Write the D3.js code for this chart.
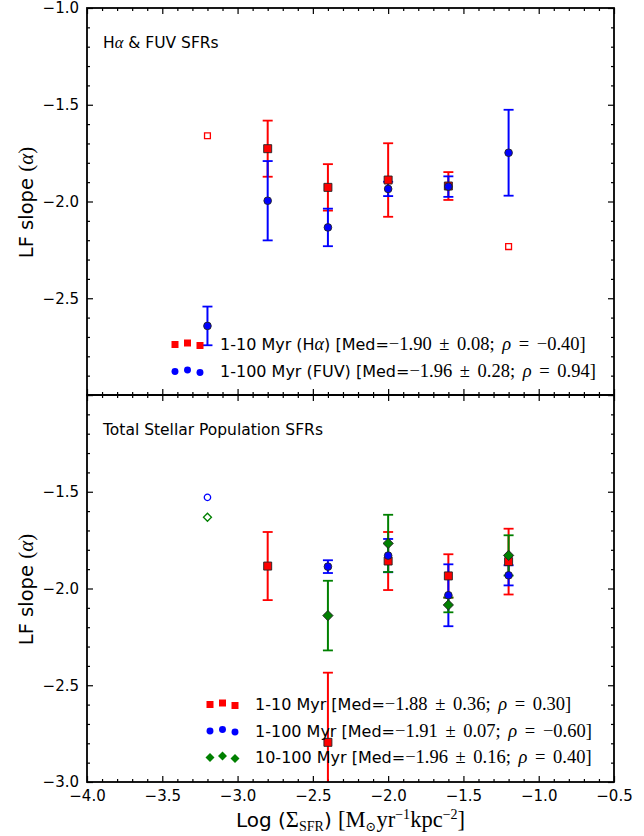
<!DOCTYPE html>
<html>
<head>
<meta charset="utf-8">
<script src="https://cdn.jsdelivr.net/npm/d3@7"></script>
<style>
body { margin: 0; background: #fff; }
text { font-family: "DejaVu Sans", sans-serif; fill: #000; }
</style>
</head>
<body>
<svg id="chart"></svg>
<script>
// ---- data ----
// top panel: H-alpha (1-10 Myr) and FUV (1-100 Myr)
const haX = [-3.2, -2.8, -2.4, -2.0, -1.6, -1.2];
const haSlope = [-1.66, -1.727, -1.927, -1.889, -1.92, -2.233];
const haErr = [null, 0.145, 0.12, 0.19, 0.072, null];

const fuvX = [-3.2, -2.8, -2.4, -2.0, -1.6, -1.2];
const fuvSlope = [-2.643, -1.996, -2.134, -1.935, -1.923, -1.748];
const fuvErr = [0.10, 0.205, 0.097, 0.037, 0.053, 0.222];

// bottom panel: total stellar population
const youngX = [-2.8, -2.4, -2.0, -1.6, -1.2];
const youngSlope = [-1.884, -2.795, -1.858, -1.935, -1.861];
const youngErr = [0.176, 0.36, 0.15, 0.112, 0.17];
const allX = [-3.2, -2.4, -2.0, -1.6, -1.2];
const allSlope = [-1.529, -1.887, -1.83, -2.035, -1.932];
const allErr = [null, 0.033, 0.086, 0.16, 0.052];
const oldX = [-3.2, -2.4, -2.0, -1.6, -1.2];
const oldSlope = [-1.632, -2.14, -1.767, -2.085, -1.829];
const oldErr = [null, 0.18, 0.148, 0.038, 0.104];

const xTicks = [-4.0, -3.5, -3.0, -2.5, -2.0, -1.5, -1.0, -0.5];
const yTicks = [-3.0, -2.5, -2.0, -1.5, -1.0];
const yLabelsTop = [-2.5, -2.0, -1.5, -1.0];
const yLabelsBot = [-3.0, -2.5, -2.0, -1.5];

// legend strings
const legTop = [
  { name: ['1-10 Myr (H', 'α', ') [Med='], med: '−1.90 ± 0.08; ', rho: '−0.40' },
  { name: ['1-100 Myr (FUV) [Med='], med: '−1.96 ± 0.28; ', rho: '0.94' }
];
const legBot = [
  { name: ['1-10 Myr [Med='], med: '−1.88 ± 0.36; ', rho: '0.30' },
  { name: ['1-100 Myr [Med='], med: '−1.91 ± 0.07; ', rho: '−0.60' },
  { name: ['10-100 Myr [Med='], med: '−1.96 ± 0.16; ', rho: '0.40' }
];

// ---- layout ----
const width = 644, height = 836;
const left = 87, right = 614;
const topPanel = [8, 395], botPanel = [395, 782];
const SERIF = '"Liberation Serif", "DejaVu Serif", serif';
const RED = '#ff0000', BLUE = '#0000ff', GREEN = '#008000';

const svg = d3.select('#chart').attr('width', width).attr('height', height);

const x = d3.scaleLinear().domain([-4, -0.5]).range([left, right]);
const minorX = d3.range(-40, -4, 1).map(d => d / 10).filter(d => Math.abs(d * 2 - Math.round(d * 2)) > 1e-6);
const minorY = d3.range(-30, -9, 1).map(d => d / 10).filter(d => Math.abs(d * 2 - Math.round(d * 2)) > 1e-6);

// mixed-font text helper
function addParts(t, parts) {
  let cur = 0;
  parts.forEach(p => {
    const s = p.shift || 0;
    const ts = t.append('tspan').text(p.t).attr('dy', s - cur);
    cur = s;
    if (p.serif) ts.style('font-family', SERIF);
    if (p.italic) ts.style('font-style', 'italic');
    if (p.size) ts.style('font-size', p.size + 'px');
    if (p.ws) ts.style('word-spacing', p.ws + 'px');
  });
  return t;
}

function marker(g, shape, cx, cy, size, fill, stroke, sw) {
  let sym, rot = 0;
  if (shape === 'square') sym = d3.symbolSquare;
  else if (shape === 'circle') sym = d3.symbolCircle;
  else { sym = d3.symbolSquare; rot = 45; }
  g.append('path')
    .attr('d', d3.symbol().type(sym).size(size)())
    .attr('transform', `translate(${cx},${cy}) rotate(${rot})`)
    .attr('fill', fill)
    .attr('stroke', stroke)
    .attr('stroke-width', sw);
}

const sizes = {
  square: { filled: 64, open: 34, leg: 49 },
  circle: { filled: 46, open: 32, leg: 38 },
  diamond: { filled: 52, open: 32, leg: 40 }
};

function drawPanel(range, series, yLabelVals, title, legend, legPos, id) {
  const y = d3.scaleLinear().domain([-3, -1]).range([range[1], range[0]]);
  const g = svg.append('g');

  svg.append('clipPath').attr('id', 'clip' + id)
    .append('rect').attr('x', left).attr('y', range[0]).attr('width', right - left).attr('height', range[1] - range[0]);

  // ticks (inward, all four sides)
  const mk = (axis, scale, vals, len, tf) => axis(scale).tickValues(vals).tickSize(-len).tickPadding(8).tickFormat(tf);
  const noLab = () => '';
  const addAxis = (ax, tr) => {
    const a = g.append('g').attr('transform', tr).call(ax);
    a.select('.domain').remove();
    a.selectAll('line').attr('stroke', '#000').attr('stroke-width', 1.2);
    a.selectAll('text').style('font-size', '15px').style('font-family', '"DejaVu Sans", sans-serif');
    return a;
  };
  addAxis(mk(d3.axisBottom, x, xTicks, 6, id === 'b' ? d3.format('.1f') : noLab), `translate(0,${range[1]})`);
  addAxis(mk(d3.axisBottom, x, minorX, 3, noLab), `translate(0,${range[1]})`);
  addAxis(mk(d3.axisTop, x, xTicks, 6, noLab), `translate(0,${range[0]})`);
  addAxis(mk(d3.axisTop, x, minorX, 3, noLab), `translate(0,${range[0]})`);
  addAxis(mk(d3.axisLeft, y, yTicks, 6, d => yLabelVals.includes(d) ? d3.format('.1f')(d) : ''), `translate(${left},0)`);
  addAxis(mk(d3.axisLeft, y, minorY, 3, noLab), `translate(${left},0)`);
  addAxis(mk(d3.axisRight, y, yTicks, 6, noLab), `translate(${right},0)`);
  addAxis(mk(d3.axisRight, y, minorY, 3, noLab), `translate(${right},0)`);

  // error bars first, then markers
  const plot = g.append('g').attr('clip-path', `url(#clip${id})`);
  series.forEach(s => {
    s.x.forEach((xv, i) => {
      const e = s.e[i];
      if (e == null) return;
      const cx = x(xv), y1 = y(s.y[i] + e), y2 = y(s.y[i] - e);
      plot.append('line').attr('x1', cx).attr('x2', cx).attr('y1', y1).attr('y2', y2)
        .attr('stroke', s.color).attr('stroke-width', 2);
      [y1, y2].forEach(yy => plot.append('line').attr('x1', cx - 5).attr('x2', cx + 5).attr('y1', yy).attr('y2', yy)
        .attr('stroke', s.color).attr('stroke-width', 1.8));
    });
  });
  series.forEach(s => {
    s.x.forEach((xv, i) => {
      const open = s.e[i] == null;
      if (open) marker(plot, s.shape, x(xv), y(s.y[i]), sizes[s.shape].open, '#fff', s.color, 1.3);
      else marker(plot, s.shape, x(xv), y(s.y[i]), sizes[s.shape].filled, s.color, '#222', 0.9);
    });
  });

  // frame
  g.append('rect').attr('x', left).attr('y', range[0]).attr('width', right - left).attr('height', range[1] - range[0])
    .attr('fill', 'none').attr('stroke', '#000').attr('stroke-width', 1.8);

  // title
  addParts(g.append('text').attr('x', 103).attr('y', range[0] + 40).style('font-size', '15.5px'), title);

  // y label
  addParts(g.append('text')
    .attr('transform', `translate(33,${(range[0] + range[1]) / 2 + 1}) rotate(-90)`)
    .attr('text-anchor', 'middle').style('font-size', '19.5px'),
    [{ t: 'LF slope ' }, { t: '(', serif: true, size: 21 }, { t: 'α', serif: true, italic: true, size: 21 }, { t: ')', serif: true, size: 21 }]);

  // legend
  const jit = [0, -1.5, 1];
  legend.forEach((l, k) => {
    const s = series[k];
    const cy = legPos.y + k * legPos.dy;
    [0, 1, 2].forEach(j => marker(g, s.shape, legPos.mx + j * 12.5, cy + jit[j], sizes[s.shape].leg, s.color, 'none', 0));
    const parts = [];
    l.name.forEach(n => parts.push(n === 'α' ? { t: n, serif: true, italic: true, size: 18 } : { t: n }));
    parts.push({ t: l.med, serif: true, size: 18.5, ws: 3 });
    parts.push({ t: 'ρ', serif: true, italic: true, size: 18.5 });
    parts.push({ t: ' = ' + l.rho + ']', serif: true, size: 18.5, ws: 3 });
    addParts(g.append('text').attr('x', legPos.tx).attr('y', cy + 5.5).style('font-size', '16px'), parts);
  });
}

drawPanel(topPanel,
  [
    { x: haX, y: haSlope, e: haErr, color: RED, shape: 'square' },
    { x: fuvX, y: fuvSlope, e: fuvErr, color: BLUE, shape: 'circle' }
  ],
  yLabelsTop,
  [{ t: 'H' }, { t: 'α', serif: true, italic: true, size: 16.5 }, { t: ' & FUV SFRs' }],
  legTop, { mx: 175, tx: 220, y: 344.5, dy: 27 }, 't');

drawPanel(botPanel,
  [
    { x: youngX, y: youngSlope, e: youngErr, color: RED, shape: 'square' },
    { x: allX, y: allSlope, e: allErr, color: BLUE, shape: 'circle' },
    { x: oldX, y: oldSlope, e: oldErr, color: GREEN, shape: 'diamond' }
  ],
  yLabelsBot,
  [{ t: 'Total Stellar Population SFRs' }],
  legBot, { mx: 210, tx: 255, y: 704.5, dy: 26.5 }, 'b');

// x axis label
addParts(svg.append('text').attr('x', (left + right) / 2).attr('y', 827).attr('text-anchor', 'middle').style('font-size', '20px'),
  [
    { t: 'Log (' },
    { t: 'Σ', serif: true, size: 22.5 },
    { t: 'SFR', serif: true, size: 14, shift: 4 },
    { t: ') ' },
    { t: '[M', serif: true, size: 22.5 },
    { t: '⊙', serif: true, size: 13, shift: 4 },
    { t: 'yr', serif: true, size: 22.5 },
    { t: '−1', serif: true, size: 14, shift: -8 },
    { t: 'kpc', serif: true, size: 22.5 },
    { t: '−2', serif: true, size: 14, shift: -8 },
    { t: ']', serif: true, size: 22.5 }
  ]);
</script>
</body>
</html>
